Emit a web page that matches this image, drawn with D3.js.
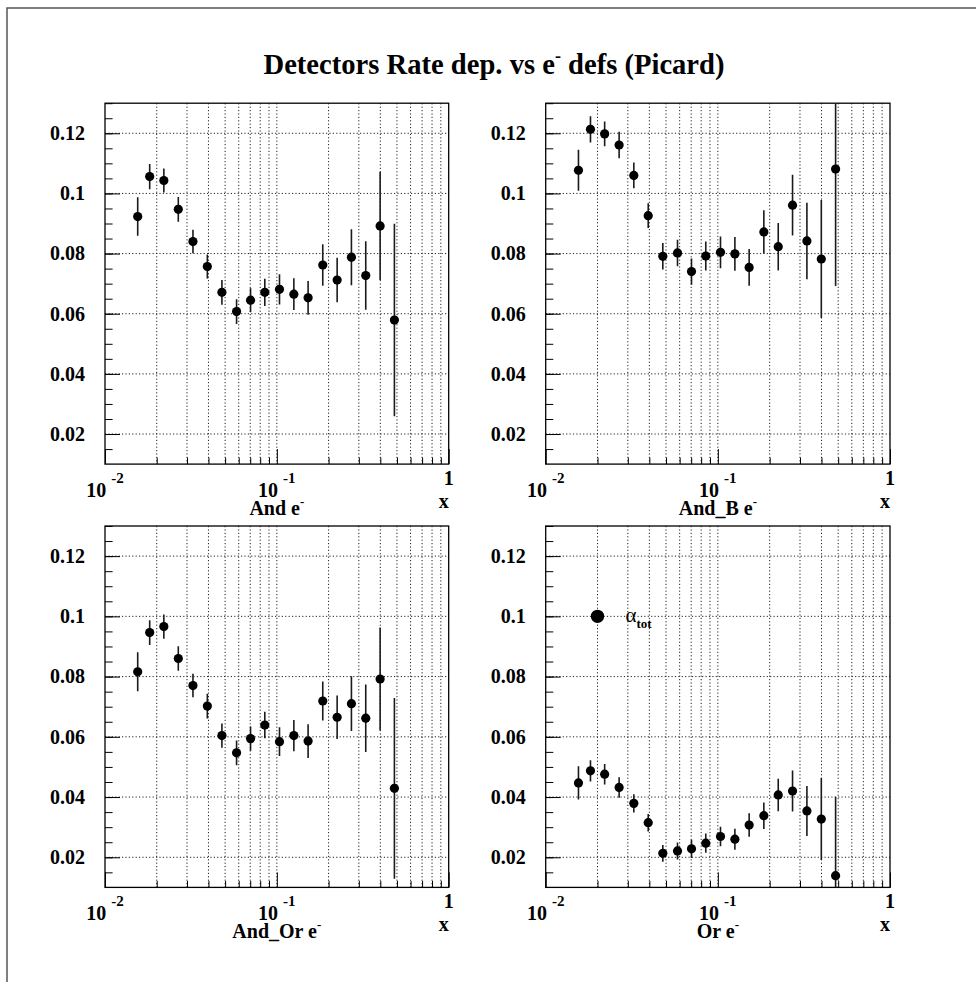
<!DOCTYPE html>
<html>
<head>
<meta charset="utf-8">
<script src="https://cdn.jsdelivr.net/npm/d3@7"></script>
<style>
  html, body { margin: 0; padding: 0; background: #fff; }
  svg { display: block; }
  svg text { font-family: "Liberation Serif", Tinos, "Nimbus Roman", "Times New Roman", Times, "DejaVu Serif", serif !important; fill: #000; }
</style>
</head>
<body>
<svg id="chart" width="976" height="982"></svg>
<script>
// Bin centres in x (shared by all four detector definitions)
const xCenters = [0.0155, 0.0182, 0.0220, 0.0267, 0.0325, 0.0394, 0.0479, 0.0583, 0.0703, 0.0851,
                  0.1036, 0.1256, 0.152, 0.185, 0.2243, 0.2716, 0.3291, 0.3990, 0.4831];

// Rate per bin and its uncertainty, one pair of arrays per trigger definition
const andVals   = [0.0923, 0.1056, 0.1043, 0.0947, 0.0840, 0.0757, 0.0671, 0.0607, 0.0645, 0.0671,
                   0.0681, 0.0665, 0.0653, 0.0762, 0.0712, 0.0788, 0.0727, 0.0892, 0.0579];
const andErr    = [0.0064, 0.0042, 0.0040, 0.0041, 0.0039, 0.0040, 0.0041, 0.0041, 0.0040, 0.0045,
                   0.0050, 0.0053, 0.0056, 0.0069, 0.0074, 0.0093, 0.0114, 0.0180, 0.0320];

const andBVals  = [0.1077, 0.1213, 0.1198, 0.1161, 0.1060, 0.0926, 0.0791, 0.0802, 0.0740, 0.0792,
                   0.0804, 0.0799, 0.0754, 0.0872, 0.0823, 0.0961, 0.0842, 0.0782, 0.1081];
const andBErr   = [0.0068, 0.0044, 0.0041, 0.0044, 0.0043, 0.0041, 0.0044, 0.0044, 0.0044, 0.0048,
                   0.0053, 0.0056, 0.0061, 0.0072, 0.0079, 0.0101, 0.0127, 0.0196, 0.0389];

const andOrVals = [0.0816, 0.0946, 0.0966, 0.0860, 0.0770, 0.0702, 0.0604, 0.0547, 0.0594, 0.0639,
                   0.0584, 0.0604, 0.0586, 0.0719, 0.0665, 0.0710, 0.0662, 0.0792, 0.0429];
const andOrErr  = [0.0065, 0.0041, 0.0040, 0.0041, 0.0039, 0.0041, 0.0040, 0.0041, 0.0040, 0.0044,
                   0.0048, 0.0052, 0.0056, 0.0065, 0.0072, 0.0091, 0.0112, 0.0171, 0.0300];

const orVals    = [0.0447, 0.0487, 0.0476, 0.0432, 0.0379, 0.0315, 0.0213, 0.0221, 0.0228, 0.0247,
                   0.0269, 0.0260, 0.0307, 0.0338, 0.0407, 0.0420, 0.0354, 0.0327, 0.0139];
const orErr     = [0.0055, 0.0035, 0.0034, 0.0034, 0.0030, 0.0029, 0.0028, 0.0028, 0.0030, 0.0032,
                   0.0032, 0.0035, 0.0039, 0.0044, 0.0054, 0.0068, 0.0083, 0.0136, 0.0262];

// Axis ranges and tick values
const xDomain = [0.01, 1];
const yDomain = [0.01, 0.13];
const yMajorTicks = [0.02, 0.04, 0.06, 0.08, 0.10, 0.12];
const yMinorTicks = d3.range(0.015, 0.1301, 0.005).map(v => +v.toFixed(3));
const xMajorTicks = [0.01, 0.1, 1];
const xMajorLabels = [["10", "-2"], ["10", "-1"], ["", "1"]];
const xMinorTicks = [2,3,4,5,6,7,8,9].map(k => k * 0.01).concat([2,3,4,5,6,7,8,9].map(k => k * 0.1));

// Panel titles and the legend entry
const panelTitles = ["And", "And_B", "And_Or", "Or"];
const legendPos = [0.02, 0.10];
const legendLabel = ["\u03b1", "tot"];

const panels = [
  { title: panelTitles[0], vals: andVals,   errs: andErr,   col: 0, row: 0 },
  { title: panelTitles[1], vals: andBVals,  errs: andBErr,  col: 1, row: 0 },
  { title: panelTitles[2], vals: andOrVals, errs: andOrErr, col: 0, row: 1 },
  { title: panelTitles[3], vals: orVals,    errs: orErr,    col: 1, row: 1, legend: true }
];

const cols = [{ x0: 105, x1: 448.7 }, { x0: 545.7, x1: 890 }];
const rows = [{ y0: 103.2, y1: 464.1 }, { y0: 526, y1: 887.4 }];

const SERIF = "'Liberation Serif', Tinos, 'Nimbus Roman', 'Times New Roman', Times, 'DejaVu Serif', serif";

const svg = d3.select("#chart").attr("font-family", SERIF);

// Canvas frame
svg.append("rect")
  .attr("x", 7).attr("y", 8)
  .attr("width", 974).attr("height", 990)
  .attr("fill", "none").attr("stroke", "#555").attr("stroke-width", 1.5);

// Main title
const title = svg.append("text")
  .attr("x", 494).attr("y", 73.5)
  .attr("text-anchor", "middle")
  .style("font-size", "28.6px").style("font-weight", "bold");
title.append("tspan").text("Detectors Rate dep. vs e");
title.append("tspan").attr("dy", -12).style("font-size", "18px").text("-");
title.append("tspan").attr("dy", 12).text(" defs (Picard)");

const fmtY = d => String(+d.toFixed(2));

panels.forEach((p, i) => {
  const c = cols[p.col], r = rows[p.row];
  const x = d3.scaleLog().domain(xDomain).range([c.x0, c.x1]);
  const y = d3.scaleLinear().domain(yDomain).range([r.y1, r.y0]);
  const g = svg.append("g");

  const clipId = "clip" + i;
  svg.append("clipPath").attr("id", clipId)
    .append("rect")
    .attr("x", c.x0).attr("y", r.y0)
    .attr("width", c.x1 - c.x0).attr("height", r.y1 - r.y0);

  // Dotted grid
  const grid = g.append("g")
    .attr("stroke", "#222").attr("stroke-width", 1)
    .attr("stroke-dasharray", "1.2,2.2");
  grid.selectAll("line.gx")
    .data(xMinorTicks.concat([0.1]))
    .join("line")
    .attr("x1", d => x(d)).attr("x2", d => x(d))
    .attr("y1", r.y0).attr("y2", r.y1);
  grid.selectAll("line.gy")
    .data(yMajorTicks)
    .join("line")
    .attr("x1", c.x0).attr("x2", c.x1)
    .attr("y1", d => y(d)).attr("y2", d => y(d));

  // Y axis: minor and major ticks drawn inward
  const yMinorAxis = d3.axisLeft(y).tickValues(yMinorTicks).tickSize(-7.6).tickFormat("");
  const yMajorAxis = d3.axisLeft(y).tickValues(yMajorTicks).tickSize(-15)
    .tickPadding(20).tickFormat(fmtY);
  const ya1 = g.append("g").attr("transform", `translate(${c.x0},0)`).call(yMinorAxis);
  const ya2 = g.append("g").attr("transform", `translate(${c.x0},0)`).call(yMajorAxis);
  [ya1, ya2].forEach(a => {
    a.attr("font-family", SERIF);
    a.select(".domain").remove();
    a.selectAll("line").attr("stroke", "#000").attr("stroke-width", 1);
  });
  ya2.selectAll("text")
    .style("font-size", "20px").style("font-weight", "bold").attr("fill", "#000");

  // X axis: log ticks drawn inward
  const xMinorAxis = d3.axisBottom(x).tickValues(xMinorTicks).tickSize(-6.5).tickFormat("");
  const xMajorAxis = d3.axisBottom(x).tickValues(xMajorTicks).tickSize(-15).tickFormat("");
  const xa1 = g.append("g").attr("transform", `translate(0,${r.y1})`).call(xMinorAxis);
  const xa2 = g.append("g").attr("transform", `translate(0,${r.y1})`).call(xMajorAxis);
  [xa1, xa2].forEach(a => {
    a.select(".domain").remove();
    a.selectAll("line").attr("stroke", "#000").attr("stroke-width", 1);
  });

  // X tick labels (powers of ten)
  xMajorTicks.forEach((t, k) => {
    const [base, exp] = xMajorLabels[k];
    const lbl = g.append("text")
      .attr("x", x(t)).attr("y", base ? r.y1 + 32.5 : r.y1 + 20.7)
      .attr("text-anchor", "middle")
      .style("font-size", "20px").style("font-weight", "bold");
    if (base) {
      lbl.append("tspan").text(base);
      lbl.append("tspan").attr("dx", 5).attr("dy", -13.5).style("font-size", "15px").text(exp);
    } else {
      lbl.text(exp);
    }
  });

  // Axis titles
  g.append("text")
    .attr("x", c.x1).attr("y", r.y1 + 43.5)
    .attr("text-anchor", "end")
    .style("font-size", "20px").style("font-weight", "bold")
    .text("x");
  const at = g.append("text")
    .attr("x", (c.x0 + c.x1) / 2).attr("y", r.y1 + 51)
    .attr("text-anchor", "middle")
    .style("font-size", "20px").style("font-weight", "bold");
  at.append("tspan").text(p.title + " e");
  at.append("tspan").attr("dy", -9).style("font-size", "13px").text("-");

  // Frame
  g.append("rect")
    .attr("x", c.x0).attr("y", r.y0)
    .attr("width", c.x1 - c.x0).attr("height", r.y1 - r.y0)
    .attr("fill", "none").attr("stroke", "#000").attr("stroke-width", 1.3);

  // Points with error bars
  const pts = xCenters.map((xv, k) => ({ x: xv, v: p.vals[k], e: p.errs[k] }));
  const marks = g.append("g").attr("clip-path", `url(#${clipId})`);
  marks.selectAll("line.err")
    .data(pts)
    .join("line")
    .attr("class", "err")
    .attr("x1", d => x(d.x)).attr("x2", d => x(d.x))
    .attr("y1", d => y(d.v - d.e)).attr("y2", d => y(d.v + d.e))
    .attr("stroke", "#1a1a1a").attr("stroke-width", 1.6);
  marks.selectAll("circle.pt")
    .data(pts)
    .join("circle")
    .attr("class", "pt")
    .attr("cx", d => x(d.x)).attr("cy", d => y(d.v))
    .attr("r", 4.6).attr("fill", "#000");

  // Legend
  if (p.legend) {
    const lx = x(legendPos[0]), ly = y(legendPos[1]);
    g.append("circle").attr("cx", lx).attr("cy", ly).attr("r", 6.7).attr("fill", "#000");
    const lt = g.append("text")
      .attr("x", lx + 28).attr("y", ly + 5.5)
      .style("font-size", "21px");
    lt.append("tspan").text(legendLabel[0]);
    lt.append("tspan").attr("dy", 6.5).style("font-size", "13px").style("font-weight", "bold").text(legendLabel[1]);
  }
});
</script>
</body>
</html>
